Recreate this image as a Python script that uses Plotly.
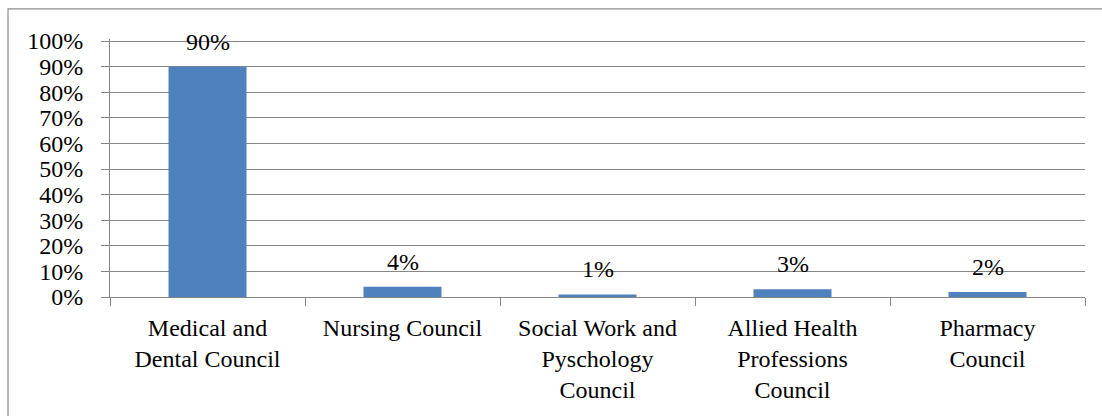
import plotly.graph_objects as go

# Share of registrations by council
councils = [
    "Medical and<br>Dental Council",
    "Nursing Council",
    "Social Work and<br>Pyschology<br>Council",
    "Allied Health<br>Professions<br>Council",
    "Pharmacy<br>Council",
]
shares = [0.90, 0.04, 0.01, 0.03, 0.02]

FONT = "Times New Roman"
BAR = "#4F81BD"
GRID = "#878787"

fig = go.Figure(
    go.Bar(
        x=councils,
        y=shares,
        marker=dict(color=BAR, line=dict(width=0)),
        width=0.4,
        hoverinfo="skip",
    )
)

# value labels above each bar
for c, v in zip(councils, shares):
    fig.add_annotation(
        x=c, y=v, text=f"{round(v * 100)}%",
        showarrow=False, yanchor="bottom", yshift=10,
        font=dict(family=FONT, size=24, color="#000000"),
    )

# outer chart frame
fig.add_shape(
    type="rect", xref="paper", yref="paper",
    x0=-0.1046, y0=1.117, x1=1.05, y1=-0.7,
    line=dict(color="#8C8C8C", width=1.2), fillcolor="rgba(0,0,0,0)",
    layer="below",
)

fig.update_layout(
    width=1102, height=416,
    margin=dict(l=110, r=17, t=39, b=119),
    plot_bgcolor="white", paper_bgcolor="white",
    showlegend=False,
    bargap=0.6,
    font=dict(family=FONT, size=24, color="#000000"),
)
fig.update_yaxes(
    range=[0, 1.008], tickvals=[i / 10 for i in range(11)], tickformat=".0%",
    showgrid=True, gridcolor=GRID, gridwidth=1,
    showline=True, linecolor=GRID, linewidth=1,
    ticks="outside", ticklen=8, tickcolor=GRID,
    ticklabelstandoff=13, zeroline=False,
    tickfont=dict(family=FONT, size=24),
)
fig.update_xaxes(
    showline=True, linecolor=GRID, linewidth=1,
    ticks="outside", ticklen=8, tickcolor=GRID, tickson="boundaries",
    ticklabelstandoff=9,
    tickfont=dict(family=FONT, size=24),
)

fig.write_html("out.html")
